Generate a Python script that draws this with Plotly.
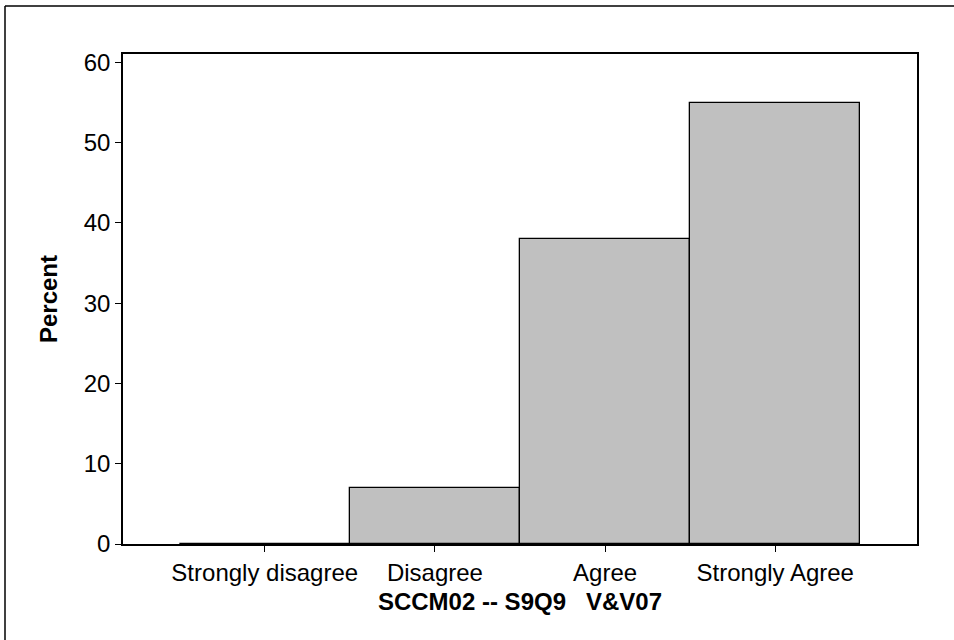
import plotly.graph_objects as go

categories = ["Strongly disagree", "Disagree", "Agree", "Strongly Agree"]
positions = [1, 2, 3, 4]
percent = [0, 7, 38, 55]
y_ticks = [0, 10, 20, 30, 40, 50, 60]

W, H = 954, 640
L, R, T, B = 123, 37, 54, 96

fig = go.Figure()
fig.add_trace(go.Bar(
    x=positions, y=percent, width=1,
    marker=dict(color="#C0C0C0", line=dict(color="black", width=1.3)),
    showlegend=False,
))

font_family = "Liberation Sans, Arial, sans-serif"
fig.update_layout(
    width=W, height=H,
    margin=dict(l=L, r=R, t=T, b=B, pad=0),
    paper_bgcolor="white", plot_bgcolor="white",
    font=dict(family=font_family, size=24, color="black"),
    bargap=0,
)
fig.update_xaxes(
    range=[0.167, 4.833], tickmode="array", tickvals=positions, ticktext=categories,
    showline=True, linecolor="black", linewidth=1.5, mirror=True,
    ticks="outside", ticklen=6, tickwidth=1.3, tickcolor="black",
    showgrid=False, zeroline=False,
    title=dict(text="<b>SCCM02 -- S9Q9&nbsp;&nbsp;&nbsp;V&amp;V07</b>", standoff=9,
               font=dict(size=24)),
)
fig.update_yaxes(
    range=[0, 61.05], tickmode="array", tickvals=y_ticks,
    showline=True, linecolor="black", linewidth=1.5, mirror=True,
    ticks="outside", ticklen=6, tickwidth=1.3, tickcolor="black",
    showgrid=False, zeroline=False,
    title=dict(text="<b>Percent</b>", standoff=19, font=dict(size=24)),
)

pw = W - L - R
ph = H - T - B
x0 = (5 - L) / pw
y0 = 1 + (T - 6) / ph
fig.add_shape(type="line", xref="paper", yref="paper", x0=x0, y0=y0, x1=1 + (R + 10) / pw, y1=y0,
              line=dict(color="black", width=1.5))
fig.add_shape(type="line", xref="paper", yref="paper", x0=x0, y0=y0, x1=x0, y1=-(B + 10) / ph,
              line=dict(color="black", width=1.5))

fig.write_html("out.html", config={"displayModeBar": False},
               post_script="document.body.style.margin='0';document.body.style.overflow='hidden';")
